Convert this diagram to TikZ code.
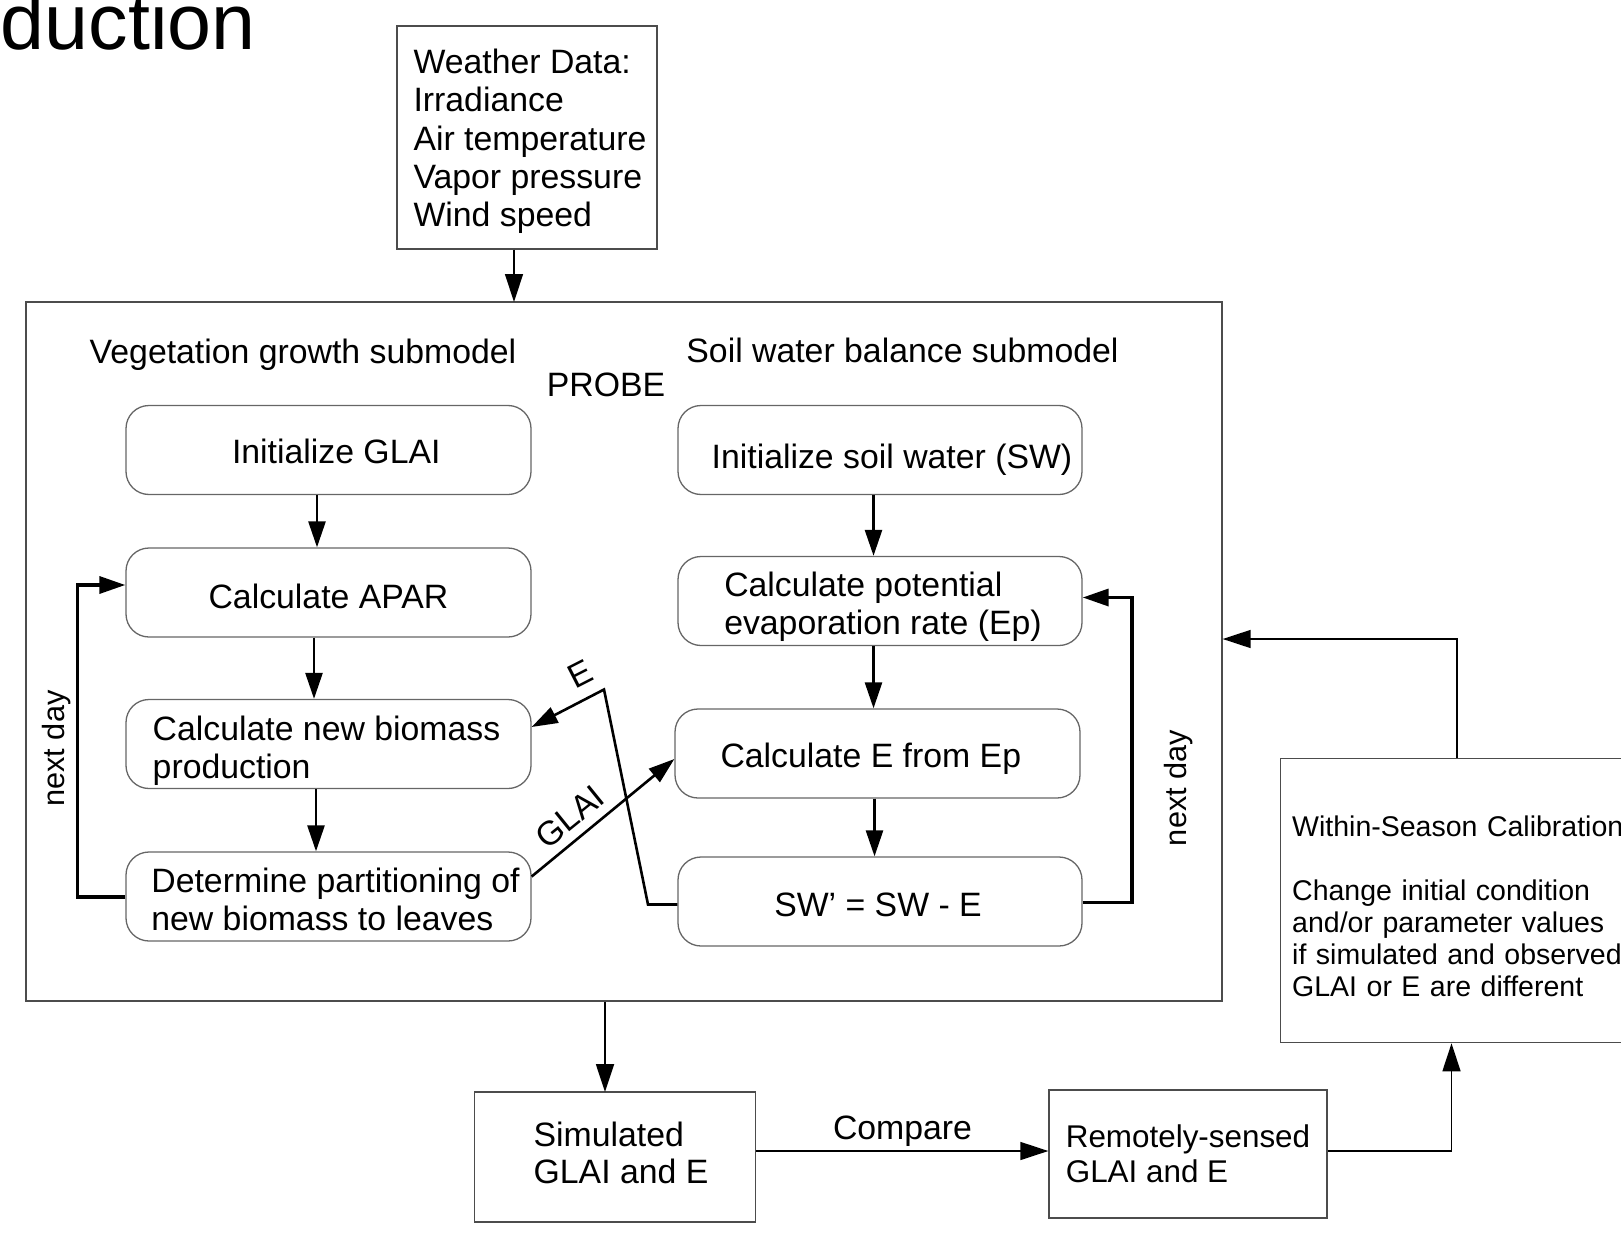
\documentclass[tikz,border=0pt]{standalone}
\usepackage{fontspec}
\setmainfont{Liberation Sans}
\usetikzlibrary{arrows.meta}
\begin{document}
\begin{tikzpicture}[x=1pt,y=-1pt,
  font=\fontsize{33.8}{38.3}\selectfont,
  rbox/.style={draw=black!60, line width=1.3pt, rounded corners=23pt, minimum width=405pt, minimum height=89pt, inner sep=0pt},
  sbox/.style={draw=black!70, line width=1.3pt, inner sep=0pt},
  txt/.style={align=left, inner sep=0pt},
  flow/.style={line width=2.6pt, -{Triangle[length=26pt,width=17pt]}},
  dayloop/.style={line width=3.4pt, -{Triangle[length=26pt,width=17pt]}},
  thinarr/.style={line width=1.4pt, -{Triangle[length=28pt,width=18pt]}},
  rlabel/.style={font=\fontsize{30.7}{34}\selectfont, rotate=90}
]
\useasboundingbox (0,0) rectangle (1621,1241);

\node[anchor=base east, font=\fontsize{79}{80}\selectfont] (title) at (259,50) {duction};

\node[sbox, minimum width=260pt, minimum height=223pt] (weather) at (527,137.5) {};
\node[txt] (weathert) at (530,141.5)
  {Weather Data:\\Irradiance\\Air temperature\\Vapor pressure\\Wind speed};

\node[sbox, minimum width=1196pt, minimum height=699pt] (probe) at (624,651.5) {};
\node (vegt) at (303,354.5) {Vegetation growth submodel};
\node (soilt) at (902.5,350.5) {Soil water balance submodel};
\node (probet) at (606,384.5) {PROBE};

\coordinate (wa) at (514,302);
\draw[thinarr] (weather.south -| wa) -- (wa);

% left column
\node[rbox] (initG) at (328.5,450) {};
\node[txt] (initGt) at (336.3,451) {Initialize GLAI};
\node[rbox] (apar) at (328.5,592.5) {};
\node[txt] (apart) at (328.5,596.5) {Calculate APAR};
\node[rbox] (bio) at (328.5,744) {};
\node[txt] (biot) at (326.5,750.7) {Calculate new biomass\\production};
\node[rbox] (part) at (328.5,896.5) {};
\node[txt] (partt) at (335.5,899.5) {Determine partitioning of\\new biomass to leaves};

% right column
\node[rbox, minimum width=404pt] (initS) at (880,450) {};
\node[txt] (initSt) at (892,459.3) {Initialize soil water (SW)};
\node[rbox, minimum width=404pt] (ep) at (880,601) {};
\node[txt] (ept) at (883,606.7) {Calculate potential\\evaporation rate (Ep)};
\node[rbox] (ecalc) at (877.5,753.5) {};
\node[txt] (ecalct) at (870.8,758.7) {Calculate E from Ep};
\node[rbox, minimum width=404pt] (swp) at (880,901.5) {};
\node[txt] (swpt) at (878,904.5) {SW' = SW - E};

\draw[flow] ([xshift=-11.5pt]initG.south) -- ([xshift=-11.5pt]apar.north);
\draw[flow] ([xshift=-14.5pt]apar.south) -- ([xshift=-14.5pt]bio.north);
\draw[flow] ([xshift=-12.5pt]bio.south) -- ([xshift=-12.5pt]part.north);
\draw[flow] ([xshift=-6.5pt]initS.south) -- ([xshift=-6.5pt]ep.north);
\draw[flow] ([xshift=-6.5pt]ep.south) -- ([xshift=-4pt]ecalc.north);
\draw[flow] ([xshift=-3pt]ecalc.south) -- ([xshift=-5.5pt]swp.north);

% next day loops
\coordinate (lb) at (77.5,897);
\coordinate (lt) at (77.5,585);
\draw[dayloop] (part.west |- lb) -- (lb) -- (lt) -- (apar.west |- lt);
\node[rlabel] (nd1) at (57,748.5) {next day};

\coordinate (rb) at (1132,902.5);
\coordinate (rt) at (1132,597.5);
\draw[dayloop] (swp.east |- rb) -- (rb) -- (rt) -- (ep.east |- rt);
\node[rlabel] (nd2) at (1178.5,788) {next day};

% E and GLAI exchange
\coordinate (e1) at (648,904.5);
\coordinate (e2) at (604,689.5);
\coordinate (e3) at (531,727);
\draw[flow] (swp.west |- e1) -- (e1) -- (e2) -- (bio.east |- e3);
\node[rotate=27] (elab) at (580,674) {E};

\coordinate (g1) at (531,876.5);
\coordinate (g2) at (675,759);
\draw[flow] (part.east |- g1) -- (ecalc.west |- g2);
\node[rotate=39] (glab) at (570,817) {GLAI};

% bottom
\node[sbox, minimum width=281.5pt, minimum height=130pt] (sim) at (615,1157) {};
\node[txt, font=\fontsize{33.8}{37}\selectfont] (simt) at (621,1153) {Simulated\\GLAI and E};
\node[sbox, minimum width=278pt, minimum height=128pt] (remote) at (1188,1154) {};
\node[txt, font=\fontsize{31.4}{34.5}\selectfont] (remotet) at (1188,1154) {Remotely-sensed\\GLAI and E};

\coordinate (s1) at (605,1092);
\draw[thinarr, line width=1.8pt] (probe.south -| s1) -- (s1);

\coordinate (c1) at (756,1151);
\draw[thinarr] (sim.east |- c1) -- (remote.west |- c1);
\node (cmp) at (902.5,1131) {Compare};

% calibration
\node[sbox, anchor=north west, minimum width=369pt, minimum height=284pt] (calib) at (1280,758) {};
\node[txt, anchor=west, text width=345pt, font=\fontsize{28.5}{32}\selectfont] (calibt) at (1292,906.7)
  {Within-Season Calibration\\\mbox{}\\Change initial condition\\and/or parameter values\\if simulated and observed\\GLAI or E are different};

\coordinate (k1) at (1457,639);
\draw[thinarr] (calib.north -| k1) -- (k1) -- (probe.east |- k1);
\coordinate (k2) at (1451.5,1151);
\draw[thinarr] (remote.east |- k2) -- (k2) -- (calib.south -| k2);
\end{tikzpicture}
\end{document}
